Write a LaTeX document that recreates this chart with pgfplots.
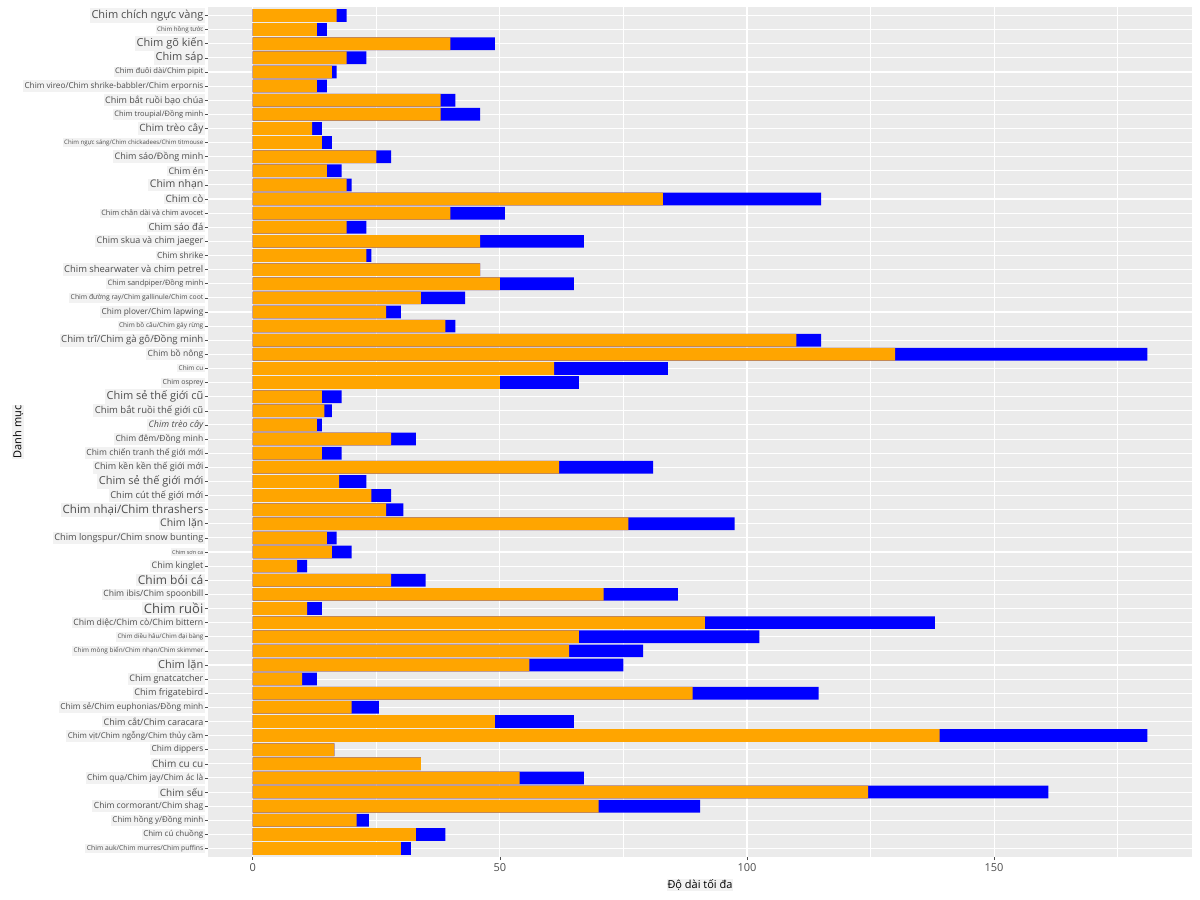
\documentclass[border=0pt]{standalone}
\usepackage{pgfplots}
\usepackage{pgfplotstable}
\pgfplotsset{compat=1.18}
\usepackage{fontspec}
\setmainfont{Open Sans}
\definecolor{panel}{HTML}{EBEBEB}
\definecolor{txt}{HTML}{4D4D4D}
\definecolor{lbl}{HTML}{F2F2F2}
\newcommand\fs[1]{\fontsize{#1bp}{#1bp}\selectfont}
\pgfplotstableread{
y lo hi
1 17 19
2 13 15
3 40 49
4 19 23
5 16 17
6 13 15
7 38 41
8 38 46
9 12 14
10 14 16
11 25 28
12 15 18
13 19 20
14 83 115
15 40 51
16 19 23
17 46 67
18 23 24
19 46 46
20 50 65
21 34 43
22 27 30
23 39 41
24 110 115
25 130 181
26 61 84
27 50 66
28 14 18
29 14.5 16
30 13 14
31 28 33
32 14 18
33 62 81
34 17.5 23
35 24 28
36 27 30.5
37 76 97.5
38 15 17
39 16 20
40 9 11
41 28 35
42 71 86
43 11 14
44 91.5 138
45 66 102.5
46 64 79
47 56 75
48 10 13
49 89 114.5
50 20 25.5
51 49 65
52 139 181
53 16.5 16.5
54 34 34
55 54 67
56 124.5 161
57 70 90.5
58 21 23.5
59 33 39
60 30 32
}\data
\begin{document}
\begin{tikzpicture}
\useasboundingbox (0,0) rectangle (1200bp,900bp);
\begin{axis}[
  at={(208bp,43bp)}, anchor=south west,
  scale only axis, width=984bp, height=850bp,
  xmin=-9.05, xmax=190.05, ymin=0.4, ymax=60.6, y dir=reverse,
  axis background/.style={fill=panel},
  axis line style={draw=none},
  xtick={0,50,100,150}, minor xtick={25,75,125,175},
  ytick={1,...,60},
  xtick pos=bottom, ytick pos=left,
  grid=both,
  major grid style={white, line width=1.1bp},
  minor grid style={white, line width=0.55bp},
  tick align=outside, major tick length=3bp, minor tick length=0pt,
  tick style={txt, line width=0.6bp},
  /pgf/number format/assume math mode=true,
  xticklabel style={font=\fs{11}, text=txt},
  yticklabel style={fill=lbl, inner sep=1.5bp, text=txt},
  xlabel={Độ dài tối đa},
  ylabel={Danh mục},
  every axis x label/.style={at={(axis description cs:0.5,-0.033)}, anchor=center, font=\fs{11}, fill=lbl, inner sep=1bp, text=black},
  every axis y label/.style={at={(axis description cs:-0.193,0.5)}, rotate=90, anchor=center, font=\fs{11}, fill=lbl, inner sep=1bp, text=black},
  yticklabels={
    {\fs{11}Chim chích ngực vàng},
    {\fs{6.2}Chim hồng tước},
    {\fs{11}Chim gõ kiến},
    {\fs{11}Chim sáp},
    {\fs{7.6}Chim đuôi dài/Chim pipit},
    {\fs{8.2}Chim vireo/Chim shrike-babbler/Chim erpornis},
    {\fs{9}Chim bắt ruồi bạo chúa},
    {\fs{7.5}Chim troupial/Đồng minh},
    {\fs{10}Chim trèo cây},
    {\fs{6.1}Chim ngực sáng/Chim chickadees/Chim titmouse},
    {\fs{9}Chim sáo/Đồng minh},
    {\fs{9}Chim én},
    {\fs{10.5}Chim nhạn},
    {\fs{10}Chim cò},
    {\fs{7.4}Chim chân dài và chim avocet},
    {\fs{9.5}Chim sáo đá},
    {\fs{9}Chim skua và chim jaeger},
    {\fs{8.4}Chim shrike},
    {\fs{9.4}Chim shearwater và chim petrel},
    {\fs{7.4}Chim sandpiper/Đồng minh},
    {\fs{6.8}Chim đường ray/Chim gallinule/Chim coot},
    {\fs{8.3}Chim plover/Chim lapwing},
    {\fs{6.5}Chim bồ câu/Chim gáy rừng},
    {\fs{9.6}Chim trĩ/Chim gà gô/Đồng minh},
    {\fs{8.5}Chim bồ nông},
    {\fs{6.5}Chim cu},
    {\fs{7}Chim osprey},
    {\fs{11}Chim sẻ thế giới cũ},
    {\fs{9.5}Chim bắt ruồi thế giới cũ},
    {\fs{9}\itshape Chim trèo cây},
    {\fs{8.5}Chim đêm/Đồng minh},
    {\fs{8.5}Chim chiến tranh thế giới mới},
    {\fs{9}Chim kền kền thế giới mới},
    {\fs{11}Chim sẻ thế giới mới},
    {\fs{9.4}Chim cút thế giới mới},
    {\fs{11.5}Chim nhại/Chim thrashers},
    {\fs{10.5}Chim lặn},
    {\fs{9.2}Chim longspur/Chim snow bunting},
    {\fs{5.5}Chim sơn ca},
    {\fs{8.9}Chim kinglet},
    {\fs{12}Chim bói cá},
    {\fs{8.6}Chim ibis/Chim spoonbill},
    {\fs{13}Chim ruồi},
    {\fs{8.7}Chim diệc/Chim cò/Chim bittern},
    {\fs{6.2}Chim diều hâu/Chim đại bàng},
    {\fs{6.4}Chim mòng biển/Chim nhạn/Chim skimmer},
    {\fs{11}Chim lặn},
    {\fs{9}Chim gnatcatcher},
    {\fs{9.1}Chim frigatebird},
    {\fs{8.3}Chim sẻ/Chim euphonias/Đồng minh},
    {\fs{9}Chim cắt/Chim caracara},
    {\fs{7.9}Chim vịt/Chim ngỗng/Chim thủy cầm},
    {\fs{8.3}Chim dippers},
    {\fs{10}Chim cu cu},
    {\fs{8.3}Chim quạ/Chim jay/Chim ác là},
    {\fs{10}Chim sếu},
    {\fs{8.5}Chim cormorant/Chim shag},
    {\fs{8}Chim hồng y/Đồng minh},
    {\fs{8}Chim cú chuồng},
    {\fs{6.8}Chim auk/Chim murres/Chim puffins}
  },
]
\addplot[xbar, fill=blue, draw=none, bar width=0.9, bar shift=0] table[x=hi, y=y] {\data};
\addplot[xbar, fill={rgb,255:red,255;green,165;blue,0}, draw=none, bar width=0.9, bar shift=0] table[x=lo, y=y] {\data};
\end{axis}
\end{tikzpicture}
\end{document}
